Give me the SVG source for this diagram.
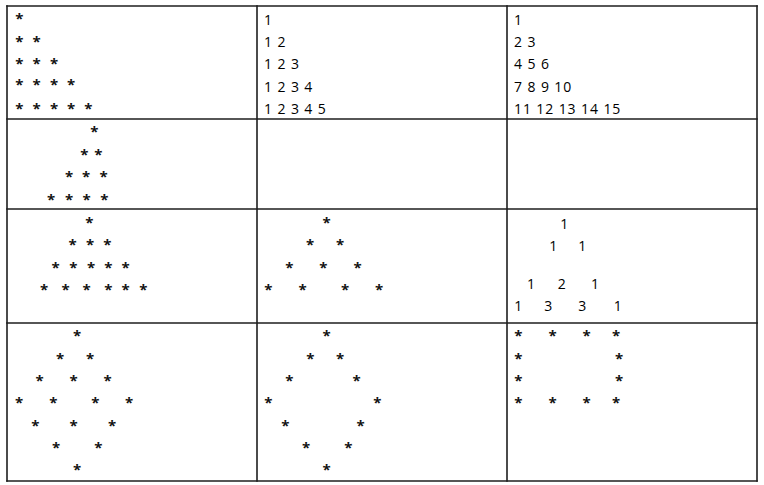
<svg xmlns="http://www.w3.org/2000/svg" width="764" height="485" viewBox="0 0 764 485">
<style>
.bg{fill:#ffffff}
.grid line{stroke:#1e1e1e;stroke-width:1.6;stroke-linecap:square}
.s{font-family:"Open Sans","Liberation Sans",sans-serif;font-size:15px;font-weight:700;fill:#141414;text-anchor:middle}
.n{font-family:"Open Sans","Liberation Sans",sans-serif;font-size:14px;fill:#000000;letter-spacing:0.9px}
.p{font-family:"Open Sans","Liberation Sans",sans-serif;font-size:14px;fill:#000000;text-anchor:middle}
</style>
<rect class="bg" x="0" y="0" width="764" height="485"/>
<g id="grid" class="grid">
<line x1="7" y1="6" x2="757" y2="6"/>
<line x1="7" y1="119" x2="757" y2="119"/>
<line x1="7" y1="209" x2="757" y2="209"/>
<line x1="7" y1="323" x2="757" y2="323"/>
<line x1="7" y1="481" x2="757" y2="481"/>
<line x1="7" y1="6" x2="7" y2="481"/>
<line x1="257" y1="6" x2="257" y2="481"/>
<line x1="507" y1="6" x2="507" y2="481"/>
<line x1="757" y1="6" x2="757" y2="481"/>
</g>
<g id="connectors"></g>
<g id="cell-r1c1">
<text class="s" x="19.3" y="23.7">*</text>
<text class="s" x="19.3" y="47">*</text><text class="s" x="36.7" y="47">*</text>
<text class="s" x="19.3" y="68.7">*</text><text class="s" x="36.7" y="68.7">*</text><text class="s" x="54" y="68.7">*</text>
<text class="s" x="19.3" y="90.3">*</text><text class="s" x="36.7" y="90.3">*</text><text class="s" x="54" y="90.3">*</text><text class="s" x="71" y="90.3">*</text>
<text class="s" x="19.3" y="114">*</text><text class="s" x="36.7" y="114">*</text><text class="s" x="54" y="114">*</text><text class="s" x="71" y="114">*</text><text class="s" x="88.3" y="114">*</text>
</g>
<g id="cell-r1c2">
<text class="n" x="264" y="25">1</text>
<text class="n" x="264" y="47.2">1 2</text>
<text class="n" x="264" y="69.4">1 2 3</text>
<text class="n" x="264" y="91.6">1 2 3 4</text>
<text class="n" x="264" y="113.8">1 2 3 4 5</text>
</g>
<g id="cell-r1c3">
<text class="n" x="514" y="25">1</text>
<text class="n" x="514" y="47.2">2 3</text>
<text class="n" x="514" y="69.4">4 5 6</text>
<text class="n" x="514" y="91.6">7 8 9 10</text>
<text class="n" x="514" y="113.8">11 12 13 14 15</text>
</g>
<g id="cell-r2c1">
<text class="s" x="94.3" y="137">*</text>
<text class="s" x="84.3" y="160.3">*</text><text class="s" x="98.3" y="160.3">*</text>
<text class="s" x="69" y="182">*</text><text class="s" x="86" y="182">*</text><text class="s" x="103.7" y="182">*</text>
<text class="s" x="51" y="204.7">*</text><text class="s" x="69" y="204.7">*</text><text class="s" x="86.7" y="204.7">*</text><text class="s" x="104.3" y="204.7">*</text>
</g>
<g id="cell-r2c2"></g>
<g id="cell-r2c3"></g>
<g id="cell-r3c1">
<text class="s" x="89.3" y="228">*</text>
<text class="s" x="72.7" y="249.7">*</text><text class="s" x="90" y="249.7">*</text><text class="s" x="107.3" y="249.7">*</text>
<text class="s" x="55.7" y="273">*</text><text class="s" x="73.3" y="273">*</text><text class="s" x="91" y="273">*</text><text class="s" x="108.3" y="273">*</text><text class="s" x="125.7" y="273">*</text>
<text class="s" x="44" y="294.7">*</text><text class="s" x="65.7" y="294.7">*</text><text class="s" x="86.7" y="294.7">*</text><text class="s" x="108.3" y="294.7">*</text><text class="s" x="125.7" y="294.7">*</text><text class="s" x="143.3" y="294.7">*</text>
</g>
<g id="cell-r3c2">
<text class="s" x="326.7" y="228">*</text>
<text class="s" x="310" y="249.7">*</text><text class="s" x="340" y="249.7">*</text>
<text class="s" x="289.3" y="273">*</text><text class="s" x="323.3" y="273">*</text><text class="s" x="357.7" y="273">*</text>
<text class="s" x="268.3" y="294.7">*</text><text class="s" x="302.7" y="294.7">*</text><text class="s" x="345" y="294.7">*</text><text class="s" x="379" y="294.7">*</text>
</g>
<g id="cell-r3c3">
<text class="p" x="564.3" y="229">1</text>
<text class="p" x="553.3" y="251">1</text><text class="p" x="582.3" y="251">1</text>
<text class="p" x="531" y="289">1</text><text class="p" x="561.7" y="289">2</text><text class="p" x="595" y="289">1</text>
<text class="p" x="518.3" y="311">1</text><text class="p" x="548.3" y="311">3</text><text class="p" x="582.3" y="311">3</text><text class="p" x="617.7" y="311">1</text>
</g>
<g id="cell-r4c1">
<text class="s" x="77" y="341">*</text>
<text class="s" x="60" y="363.7">*</text><text class="s" x="90" y="363.7">*</text>
<text class="s" x="39.7" y="386">*</text><text class="s" x="73.7" y="386">*</text><text class="s" x="107.7" y="386">*</text>
<text class="s" x="19" y="407.7">*</text><text class="s" x="53.3" y="407.7">*</text><text class="s" x="95.3" y="407.7">*</text><text class="s" x="129" y="407.7">*</text>
<text class="s" x="35.3" y="431">*</text><text class="s" x="73.7" y="431">*</text><text class="s" x="112" y="431">*</text>
<text class="s" x="56" y="452.7">*</text><text class="s" x="98.3" y="452.7">*</text>
<text class="s" x="77" y="475">*</text>
</g>
<g id="cell-r4c2">
<text class="s" x="326.7" y="341">*</text>
<text class="s" x="310.3" y="363.7">*</text><text class="s" x="340" y="363.7">*</text>
<text class="s" x="289.3" y="386">*</text><text class="s" x="356.7" y="386">*</text>
<text class="s" x="268.3" y="407.7">*</text><text class="s" x="377.3" y="407.7">*</text>
<text class="s" x="285.3" y="431">*</text><text class="s" x="360.7" y="431">*</text>
<text class="s" x="306" y="452.7">*</text><text class="s" x="348.3" y="452.7">*</text>
<text class="s" x="326.7" y="475">*</text>
</g>
<g id="cell-r4c3">
<text class="s" x="518.3" y="341">*</text><text class="s" x="552.7" y="341">*</text><text class="s" x="586.7" y="341">*</text><text class="s" x="616" y="341">*</text>
<text class="s" x="518.3" y="363.7">*</text><text class="s" x="619" y="363.7">*</text>
<text class="s" x="518.3" y="386">*</text><text class="s" x="619" y="386">*</text>
<text class="s" x="518.3" y="407.7">*</text><text class="s" x="552.7" y="407.7">*</text><text class="s" x="586.7" y="407.7">*</text><text class="s" x="616" y="407.7">*</text>
</g>
</svg>
